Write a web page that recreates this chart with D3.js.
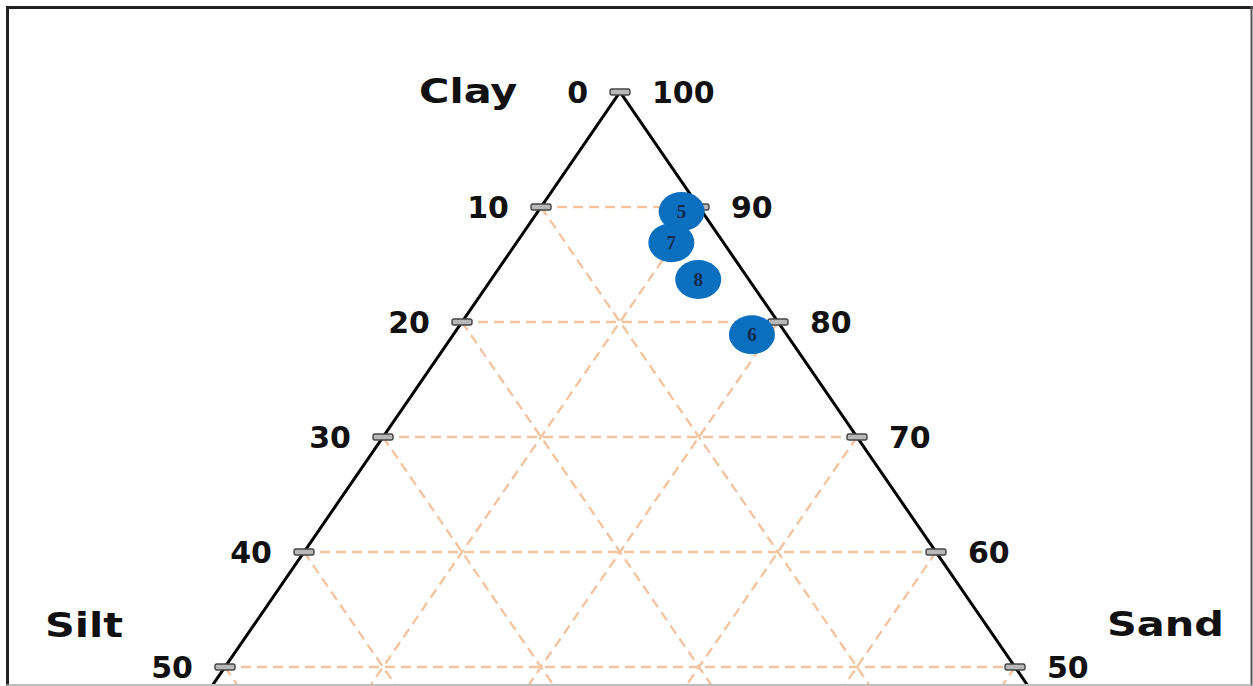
<!DOCTYPE html>
<html>
<head>
<meta charset="utf-8">
<script src="https://cdn.jsdelivr.net/npm/d3@7"></script>
<style>
  html, body { margin: 0; padding: 0; background: #fff; }
  svg { display: block; }
</style>
</head>
<body>
<div id="chart"></div>
<script>
// ---- data ----
const axisTitles = ["Clay", "Silt", "Sand"];
const leftTicks = [0, 10, 20, 30, 40, 50];      // labels on the left edge (100 - clay)
const rightTicks = [100, 90, 80, 70, 60, 50];   // labels on the right edge (clay)
const gridLevels = [10, 20, 30, 40, 50, 60, 70, 80, 90];
const sampleIds = ["5", "7", "8", "6"];
const clayPct = [89.6, 86.9, 83.7, 78.9];
const siltPct = [1.3, 3.3, 3.2, 2.2];
const sandPct = [9.1, 9.8, 13.1, 18.9];

const W = 1253, H = 686;
const svg = d3.select("#chart").append("svg").attr("width", W).attr("height", H);

// clip to inner frame
svg.append("defs").append("clipPath").attr("id", "frameClip")
  .append("rect").attr("x", 9).attr("y", 9).attr("width", 1241).attr("height", 675);

// scales: vertical by clay, horizontal by (sand - silt)
const y = d3.scaleLinear().domain([100, 0]).range([92, 1242]);
const x = d3.scaleLinear().domain([-100, 100]).range([620 - 790, 620 + 790]);
const pt = (c, si, sa) => [x(sa - si), y(c)];

const g = svg.append("g").attr("clip-path", "url(#frameClip)");

// grid
const gridColor = "#f2c4a0";
const grid = g.append("g").attr("stroke", gridColor).attr("stroke-width", 2.4)
  .attr("stroke-dasharray", "10,6").attr("fill", "none");
gridLevels.forEach(v => {
  // horizontal: constant clay = 100 - v
  const c = 100 - v;
  const a = pt(c, v, 0), b = pt(c, 0, v);
  grid.append("line").attr("x1", a[0]).attr("y1", a[1]).attr("x2", b[0]).attr("y2", b[1]);
  // constant sand = v (parallel to left edge), from right edge down-left
  const s1 = pt(100 - v, 0, v), s2 = pt(0, 100 - v, v);
  grid.append("line").attr("x1", s1[0]).attr("y1", s1[1]).attr("x2", s2[0]).attr("y2", s2[1]);
  // constant silt = v (parallel to right edge), from left edge down-right
  const t1 = pt(100 - v, v, 0), t2 = pt(0, v, 100 - v);
  grid.append("line").attr("x1", t1[0]).attr("y1", t1[1]).attr("x2", t2[0]).attr("y2", t2[1]);
});

// triangle edges
const apex = pt(100, 0, 0), bl = pt(0, 100, 0), br = pt(0, 0, 100);
g.append("path")
  .attr("d", d3.line()([bl, apex, br]))
  .attr("fill", "none").attr("stroke", "#000").attr("stroke-width", 3)
  .attr("stroke-linejoin", "miter");

// ticks
const tickData = [];
leftTicks.forEach(v => tickData.push(pt(100 - v, v, 0)));
rightTicks.forEach(v => { if (v !== 100) tickData.push(pt(v, 0, 100 - v)); });
g.append("g").selectAll("rect").data(tickData).join("rect")
  .attr("x", d => d[0] - 10).attr("y", d => d[1] - 3)
  .attr("width", 20).attr("height", 6).attr("rx", 2)
  .attr("fill", "#b8b8b8").attr("stroke", "#444").attr("stroke-width", 1.4);

// tick labels
const numFont = "'DejaVu Sans', Verdana, sans-serif";
g.append("g").selectAll("text").data(leftTicks).join("text")
  .attr("x", v => pt(100 - v, v, 0)[0] - 32)
  .attr("y", v => pt(100 - v, v, 0)[1] + 11)
  .attr("text-anchor", "end")
  .attr("font-family", numFont).attr("font-weight", "bold").attr("font-size", 30)
  .attr("fill", "#111").text(v => v);
g.append("g").selectAll("text").data(rightTicks).join("text")
  .attr("x", v => pt(v, 0, 100 - v)[0] + 32)
  .attr("y", v => pt(v, 0, 100 - v)[1] + 11)
  .attr("text-anchor", "start")
  .attr("font-family", numFont).attr("font-weight", "bold").attr("font-size", 30)
  .attr("fill", "#111").text(v => v);

// axis titles
const titlePos = [[419, 103], [45, 637], [1107, 636]];
g.append("g").selectAll("text").data(axisTitles).join("text")
  .attr("transform", (d, i) => `translate(${titlePos[i][0]},${titlePos[i][1]}) scale(1.22,1)`)
  .attr("font-family", numFont).attr("font-weight", "bold").attr("font-size", 34)
  .attr("fill", "#111").text(d => d);

// sample points
const samples = sampleIds.map((id, i) => ({ id, p: pt(clayPct[i], siltPct[i], sandPct[i]) }));
const sg = g.append("g").selectAll("g").data(samples).join("g")
  .attr("transform", d => `translate(${d.p[0]},${d.p[1]})`);
sg.append("ellipse").attr("rx", 23).attr("ry", 19.5).attr("fill", "#0b6fbf");
sg.append("text").attr("y", 6.5).attr("text-anchor", "middle")
  .attr("font-family", "'Liberation Serif', 'Times New Roman', serif")
  .attr("font-weight", "bold").attr("font-size", 19).attr("fill", "#13284a")
  .text(d => d.id);

// frame
svg.append("line").attr("x1", 6).attr("x2", 1253).attr("y1", 7.5).attr("y2", 7.5)
  .attr("stroke", "#222").attr("stroke-width", 3);
svg.append("line").attr("x1", 7.5).attr("x2", 7.5).attr("y1", 6).attr("y2", 686)
  .attr("stroke", "#222").attr("stroke-width", 3);
svg.append("line").attr("x1", 1251.5).attr("x2", 1251.5).attr("y1", 6).attr("y2", 686)
  .attr("stroke", "#555").attr("stroke-width", 2);
svg.append("line").attr("x1", 6).attr("x2", 1253).attr("y1", 685).attr("y2", 685)
  .attr("stroke", "#aaa").attr("stroke-width", 1.5);
</script>
</body>
</html>
